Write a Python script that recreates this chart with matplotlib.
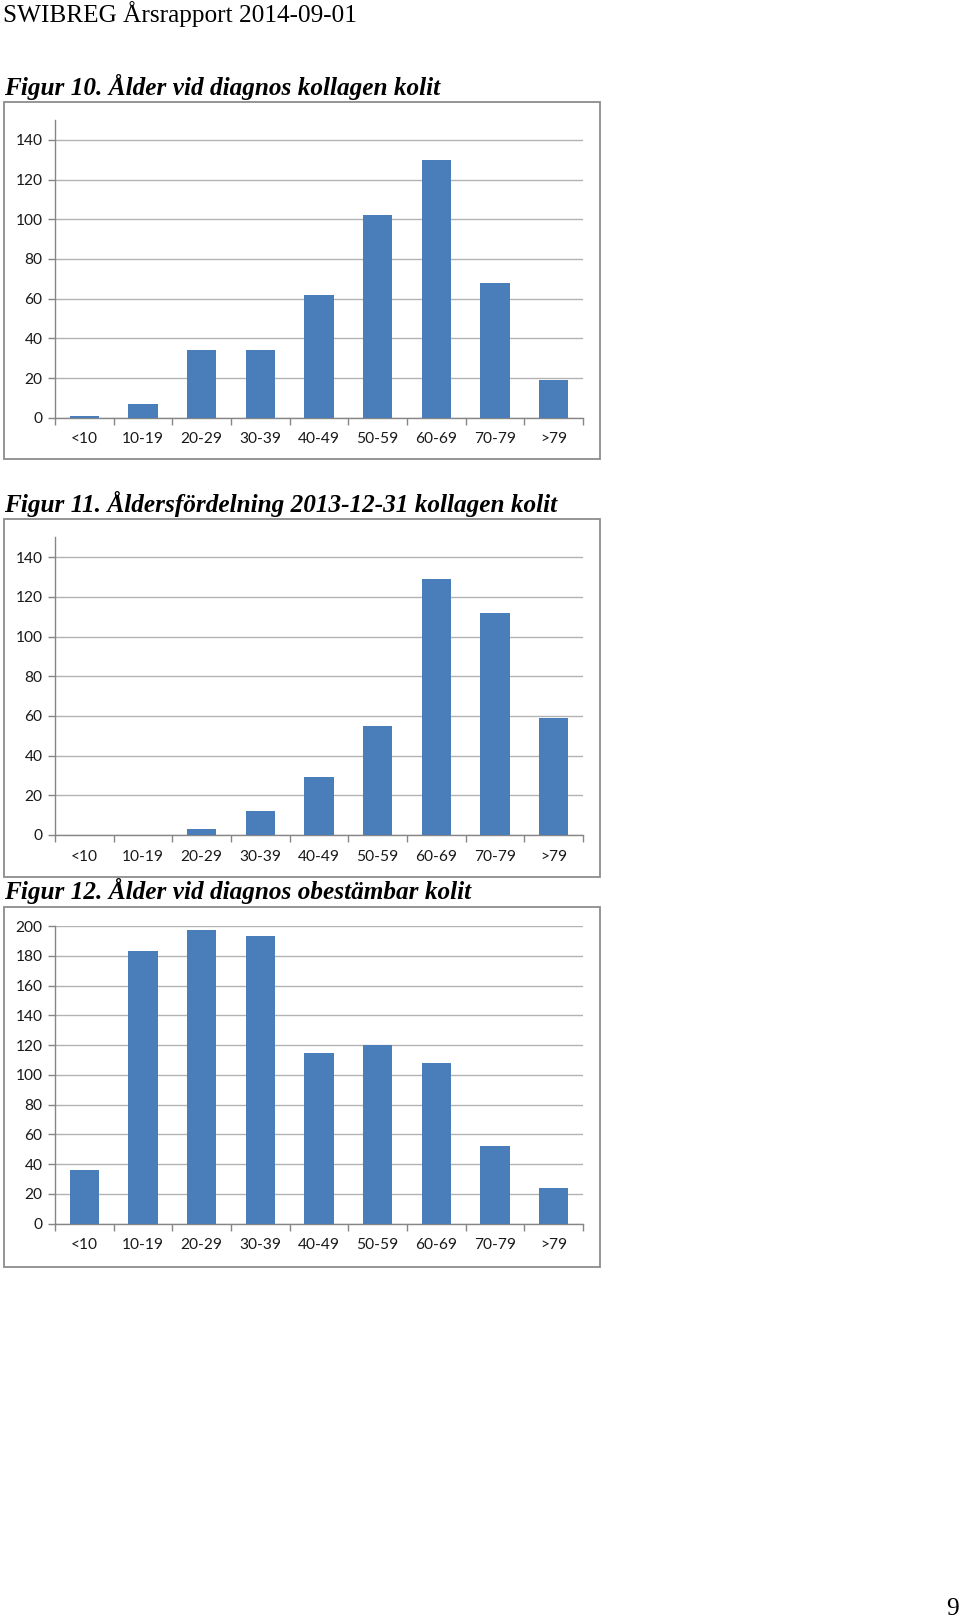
"""
Åldersfördelning, kollagen och obestämbar kolit (SWIBREG 2014).
Three Excel-style bar charts stacked on one report page.
"""

import matplotlib
matplotlib.use("Agg")
import matplotlib.pyplot as plt
from matplotlib.patches import Rectangle

age_groups = ["<10", "10-19", "20-29", "30-39", "40-49",
              "50-59", "60-69", "70-79", ">79"]
diagnos_kollagen = [1, 7, 34, 34, 62, 102, 130, 68, 19]
fordelning_kollagen = [0, 0, 3, 12, 29, 55, 129, 112, 59]
diagnos_obestambar = [36, 183, 197, 193, 115, 120, 108, 52, 24]

header_text = "SWIBREG Årsrapport 2014-09-01"
titles = ["Figur 10. Ålder vid diagnos kollagen kolit",
          "Figur 11. Åldersfördelning 2013-12-31 kollagen kolit",
          "Figur 12. Ålder vid diagnos obestämbar kolit"]
page_number = "9"

W, H = 960, 1620
BAR_COLOR = "#4a7ebb"
GRID_COLOR = "#b3b3b3"
AXIS_COLOR = "#868686"
BORDER_COLOR = "#8c8c8c"


def px_rect(x0, y0, x1, y1):
    """Pixel box (top-left origin) to figure fraction [l, b, w, h]."""
    return [x0 / W, 1 - y1 / H, (x1 - x0) / W, (y1 - y0) / H]


def draw_chart(fig, values, plot_box, border_box, ymax):
    # outer chart frame
    bx0, by0, bx1, by1 = border_box
    fig.patches.append(Rectangle((bx0 / W, 1 - by1 / H),
                                 (bx1 - bx0) / W, (by1 - by0) / H,
                                 transform=fig.transFigure, fill=False,
                                 edgecolor=BORDER_COLOR, linewidth=1.3))

    ax = fig.add_axes(px_rect(*plot_box))
    x = range(len(age_groups))
    ax.bar(x, values, width=0.5, color=BAR_COLOR, linewidth=0, zorder=3)

    ax.set_xlim(-0.5, len(age_groups) - 0.5)
    ax.set_ylim(0, ymax)
    ax.set_yticks(range(0, ymax + 1, 20))
    ax.yaxis.grid(True, color=GRID_COLOR, linewidth=1.0, zorder=0)

    # category labels between boundary ticks, like Excel
    ax.set_xticks(list(x))
    ax.set_xticklabels(age_groups)
    ax.set_xticks([i - 0.5 for i in range(len(age_groups) + 1)], minor=True)
    ax.tick_params(axis="x", which="major", length=0, pad=10.5)
    ax.tick_params(axis="x", which="minor", length=5, color=AXIS_COLOR,
                   width=1.0, direction="out")
    ax.tick_params(axis="y", length=5, color=AXIS_COLOR, width=1.0,
                   pad=4)
    ax.tick_params(labelsize=11.2, labelcolor="#1a1a1a")

    for side in ("top", "right"):
        ax.spines[side].set_visible(False)
    for side in ("left", "bottom"):
        ax.spines[side].set_color(AXIS_COLOR)
        ax.spines[side].set_linewidth(1.0)
    ax.set_facecolor("none")
    return ax


plt.rcParams["font.family"] = ["Lato", "DejaVu Sans"]

fig = plt.figure(figsize=(W / 100, H / 100), dpi=100)
fig.patch.set_facecolor("white")

serif = ["Liberation Serif", "DejaVu Serif"]
fig.text(3 / W, 1 - 14 / H, header_text, family=serif, fontsize=18.2,
         va="center", ha="left")

title_y = [87, 504, 891]
for t, ty in zip(titles, title_y):
    fig.text(4 / W, 1 - ty / H, t, family=serif, fontsize=18.2,
             fontweight="bold", fontstyle="italic", va="center", ha="left")

draw_chart(fig, diagnos_kollagen, (55, 120, 583, 417.7),
           (4, 101.5, 600, 459), 150)
draw_chart(fig, fordelning_kollagen, (55, 537.4, 583, 835),
           (4, 519, 600, 877), 150)
draw_chart(fig, diagnos_obestambar, (55, 926, 583, 1223.7),
           (4, 907, 600, 1267), 200)

fig.text(959 / W, 1 - 1609 / H, page_number, family=serif, fontsize=18.2,
         va="center", ha="right")

fig.savefig("out.png", dpi=100)
